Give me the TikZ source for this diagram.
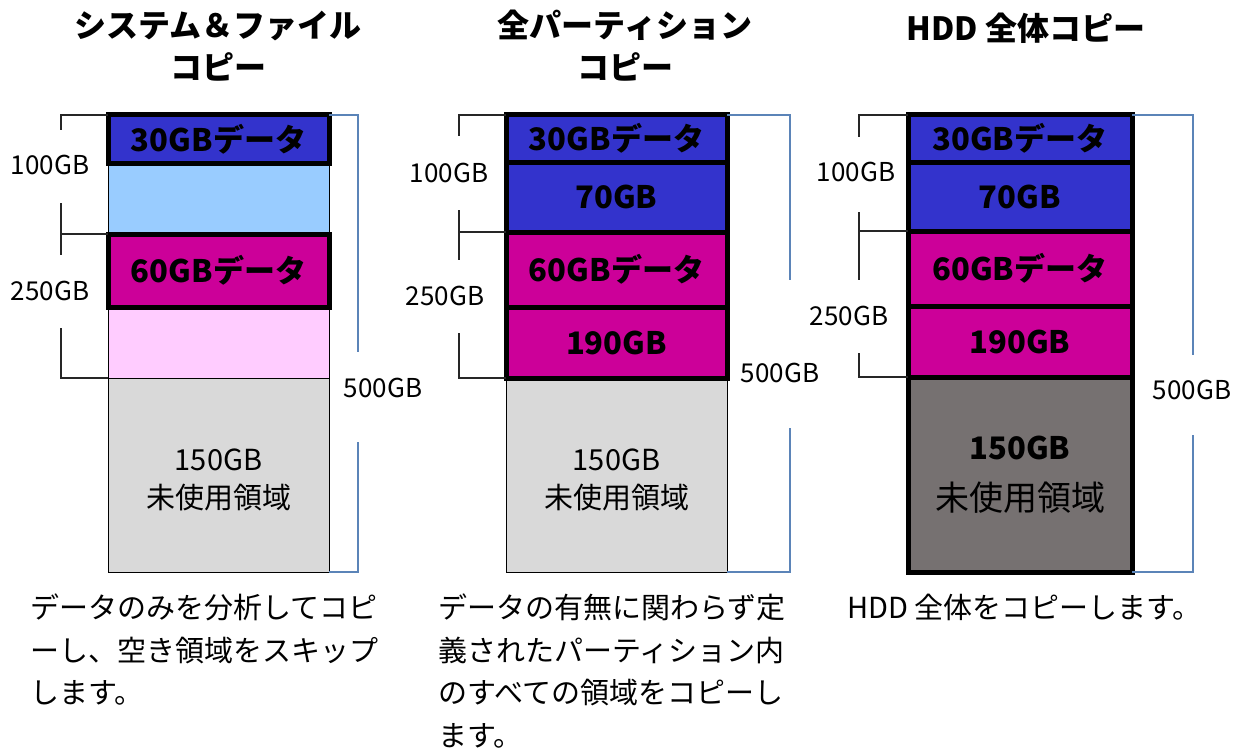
\documentclass[tikz,border=0pt]{standalone}
\usepackage{fontspec}
\setmainfont{Noto Sans CJK JP}
\definecolor{datablue}{HTML}{3333CC}
\definecolor{lightblue}{HTML}{99CCFF}
\definecolor{datapink}{HTML}{CC0099}
\definecolor{lightpink}{HTML}{FFCCFF}
\definecolor{freegray}{HTML}{D9D9D9}
\definecolor{darkfree}{HTML}{767171}
\definecolor{spanblue}{HTML}{5B84B8}

\begin{document}
\begin{tikzpicture}[x=1pt,y=-1pt]
\tikzstyle{datapart}=[rectangle,draw,line width=5pt,inner sep=0pt,outer sep=0pt,anchor=north west,align=center,font=\bfseries\fontsize{31}{31}\selectfont]
\tikzstyle{emptypart}=[rectangle,draw,line width=1pt,inner sep=0pt,outer sep=0pt,anchor=north west]
\tikzstyle{freetext}=[inner sep=0pt,align=center,font=\fontsize{29}{38}\selectfont]
\tikzstyle{gblabel}=[inner sep=0pt,font=\fontsize{26}{26}\selectfont]
\tikzstyle{braceline}=[line width=1.2pt,black!85]
\tikzstyle{spanline}=[line width=1.5pt,spanblue]
\tikzstyle{titletext}=[inner sep=0pt,align=center,font=\bfseries\fontsize{32}{42}\selectfont]
\tikzstyle{note}=[inner sep=0pt,anchor=north west,align=left,font=\fontsize{29}{42.5}\selectfont]
\fill[white] (0,0) rectangle (1242,749);
\useasboundingbox (0,0) rectangle (1242,749);

% titles
\node[titletext] (t1) at (218,46) {システム＆ファイル\\コピー};
\node[titletext] (t2) at (625,46) {全パーティション\\コピー};
\node[titletext] (t3) at (1026,28) {HDD 全体コピー};

% system & file copy
\node[emptypart,fill=lightblue,minimum width=221pt,minimum height=71pt] (a70) at (108,163) {};
\node[emptypart,fill=lightpink,minimum width=221pt,minimum height=71pt] (a190) at (108,307) {};
\node[emptypart,fill=freegray,minimum width=221pt,minimum height=194pt] (afree) at (108,378) {};
\node[freetext] (atext) at ([yshift=-5pt]afree.center) {150GB\\未使用領域};
\node[datapart,fill=datablue,minimum width=221pt,minimum height=48pt] (a30) at (108,115) {30GBデータ};
\node[datapart,fill=datapink,minimum width=221pt,minimum height=73pt] (a60) at (108,234) {60GBデータ};
\draw[braceline] (a30.north west) -- (61,115) -- (61,130);
\draw[braceline] (61,203) -- (61,255);
\draw[braceline] (a60.north west) -- (61,234);
\draw[braceline] (a190.south west) -- (61,378) -- (61,328);
\node[gblabel] (a100) at (50,165) {100GB};
\node[gblabel] (a250) at (50,291) {250GB};
\draw[spanline] (a30.north east) -- (358,115) -- (358,352);
\draw[spanline] (afree.south east) -- (358,572) -- (358,442);
\node[gblabel] (a500) at (383,388) {500GB};

% all partitions copy
\node[emptypart,fill=freegray,minimum width=221pt,minimum height=194pt] (bfree) at (506,378) {};
\node[freetext] (btext) at ([yshift=-5pt]bfree.center) {150GB\\未使用領域};
\node[datapart,fill=datablue,minimum width=221pt,minimum height=47pt] (b30) at (506,115) {30GBデータ};
\node[datapart,fill=datablue,minimum width=221pt,minimum height=70pt] (b70) at (506,162) {70GB};
\node[datapart,fill=datapink,minimum width=221pt,minimum height=75pt] (b60) at (506,232) {60GBデータ};
\node[datapart,fill=datapink,minimum width=221pt,minimum height=71pt] (b190) at (506,307) {190GB};
\draw[braceline] (b30.north west) -- (459,115) -- (459,136);
\draw[braceline] (459,210) -- (459,260);
\draw[braceline] (b60.north west) -- (459,232);
\draw[braceline] (b190.south west) -- (459,378) -- (459,333);
\node[gblabel] (b100) at (449,173) {100GB};
\node[gblabel] (b250) at (445,296) {250GB};
\draw[spanline] (b30.north east) -- (790,115) -- (790,280);
\draw[spanline] (bfree.south east) -- (790,572) -- (790,428);
\node[gblabel] (b500) at (780,373) {500GB};

% whole HDD copy
\node[datapart,fill=darkfree,minimum width=224pt,minimum height=195pt] (cfree) at (908,377) {150GB\\[20pt]\mdseries\fontsize{34}{34}\selectfont 未使用領域};
\node[datapart,fill=datablue,minimum width=224pt,minimum height=47pt] (c30) at (908,115) {30GBデータ};
\node[datapart,fill=datablue,minimum width=224pt,minimum height=69pt] (c70) at (908,162) {70GB};
\node[datapart,fill=datapink,minimum width=224pt,minimum height=75pt] (c60) at (908,231) {60GBデータ};
\node[datapart,fill=datapink,minimum width=224pt,minimum height=71pt] (c190) at (908,306) {190GB};
\draw[braceline] (c30.north west) -- (859,115) -- (859,137);
\draw[braceline] (859,212) -- (859,280);
\draw[braceline] (c60.north west) -- (859,231);
\draw[braceline] (c190.south west) -- (859,377) -- (859,353);
\node[gblabel] (c100) at (856,172) {100GB};
\node[gblabel] (c250) at (849,316) {250GB};
\draw[spanline] (c30.north east) -- (1193,115) -- (1193,355);
\draw[spanline] (cfree.south east) -- (1193,572) -- (1193,435);
\node[gblabel] (c500) at (1192,390) {500GB};

% notes
\node[note] (n1) at (30,594) {データのみを分析してコピ\\ーし、空き領域をスキップ\\します。};
\node[note] (n2) at (438,594) {データの有無に関わらず定\\義されたパーティション内\\のすべての領域をコピーし\\ます。};
\node[note] (n3) at (847,594) {HDD 全体をコピーします。};
\end{tikzpicture}
\end{document}
